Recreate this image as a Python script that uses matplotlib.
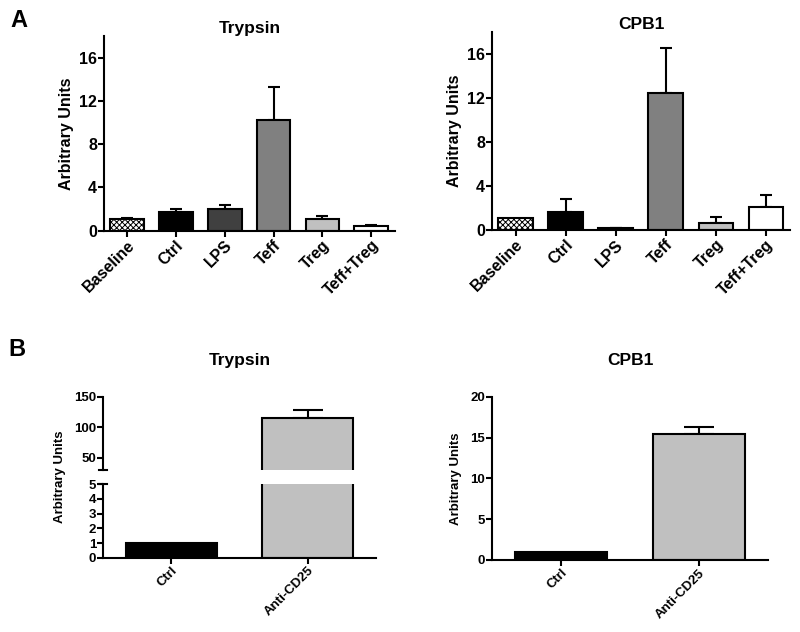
import matplotlib.pyplot as plt
import numpy as np

plt.rcParams['font.family'] = ['Liberation Sans', 'DejaVu Sans']
plt.rcParams['font.weight'] = 'bold'
plt.rcParams['axes.labelweight'] = 'bold'
plt.rcParams['hatch.linewidth'] = 0.7

# data
groups_a = ['Baseline', 'Ctrl', 'LPS', 'Teff', 'Treg', 'Teff+Treg']
trypsin_a = [1.08, 1.73, 2.0, 10.2, 1.1, 0.4]
trypsin_a_err = [0.12, 0.24, 0.4, 3.1, 0.23, 0.12]
cpb1_a = [1.05, 1.64, 0.15, 12.45, 0.66, 2.12]
cpb1_a_err = [0.0, 1.16, 0.07, 4.1, 0.52, 1.03]
colors_a = ['white', 'black', '#404040', '#808080', '#c0c0c0', 'white']
hatches_a = ['xxxxxx', None, None, None, None, None]

groups_b = ['Ctrl', 'Anti-CD25']
trypsin_b = [1.0, 114.6]
trypsin_b_err = [0.0, 13.1]
cpb1_b = [1.0, 15.4]
cpb1_b_err = [0.0, 0.9]
colors_b = ['black', '#c0c0c0']

LW = 1.5


def style(ax, fs):
    ax.spines['top'].set_visible(False)
    ax.spines['right'].set_visible(False)
    ax.spines['left'].set_linewidth(LW)
    ax.spines['bottom'].set_linewidth(LW)
    ax.tick_params(width=LW, length=4, labelsize=fs, pad=1)


def bars(ax, vals, errs, colors, hatches=None, width=0.69, cap=4.5):
    x = np.arange(len(vals))
    for i, v in enumerate(vals):
        h = hatches[i] if hatches else None
        ax.bar(x[i], v, width, color=colors[i], edgecolor='black',
               linewidth=LW, hatch=h, zorder=2)
        if errs[i] > 0:
            ax.errorbar(x[i], v, yerr=[[0], [errs[i]]], fmt='none',
                        ecolor='black', elinewidth=LW, capsize=cap,
                        capthick=LW, zorder=1)
    return x


def xlabels(ax, x, labels, fs):
    ax.set_xticks(x)
    ax.set_xticklabels(labels, rotation=45, ha='right',
                       rotation_mode='anchor', fontsize=fs)


fig = plt.figure(figsize=(8, 6.32), dpi=100)

# ---- panel A ----
ax1 = fig.add_axes([0.130, 0.635, 0.364, 0.308])
x = bars(ax1, trypsin_a, trypsin_a_err, colors_a, hatches_a)
ax1.set_xlim(-0.47, 5.49)
ax1.set_ylim(0, 18)
ax1.set_yticks([0, 4, 8, 12, 16])
style(ax1, 11.5)
xlabels(ax1, x, groups_a, 11.5)
ax1.set_ylabel('Arbitrary Units', fontsize=11.5, labelpad=4)
ax1.set_title('Trypsin', fontsize=12.5, fontweight='bold', pad=2)

ax2 = fig.add_axes([0.615, 0.636, 0.373, 0.314])
x = bars(ax2, cpb1_a, cpb1_a_err, colors_a, hatches_a)
ax2.set_xlim(-0.47, 5.49)
ax2.set_ylim(0, 18)
ax2.set_yticks([0, 4, 8, 12, 16])
style(ax2, 11.5)
xlabels(ax2, x, groups_a, 11.5)
ax2.set_ylabel('Arbitrary Units', fontsize=11.5, labelpad=4)
ax2.set_title('CPB1', fontsize=12.5, fontweight='bold', pad=-4)

# ---- panel B, trypsin with broken axis ----
ax3 = fig.add_axes([0.129, 0.1176, 0.341, 0.1161])
ax3u = fig.add_axes([0.129, 0.2563, 0.341, 0.116])
for a in (ax3, ax3u):
    x = bars(a, trypsin_b, trypsin_b_err, colors_b, width=0.67, cap=11)
    a.set_xlim(-0.5, 1.5)
ax3.set_ylim(0, 5)
ax3.set_yticks([0, 1, 2, 3, 4, 5])
style(ax3, 9.5)
xlabels(ax3, x, groups_b, 9.5)
ax3u.set_ylim(30, 150)
ax3u.set_yticks([50, 100, 150])
style(ax3u, 9.5)
ax3u.spines['bottom'].set_visible(False)
ax3u.set_xticks([])
# break caps on the y axis
ax3.plot([-0.015, 0.015], [1, 1], color='black', lw=LW,
         transform=ax3.transAxes, clip_on=False)
ax3u.plot([-0.015, 0.015], [0, 0], color='black', lw=LW,
          transform=ax3u.transAxes, clip_on=False)
fig.text(0.075, 0.245, 'Arbitrary Units', rotation=90, fontsize=9.5,
         ha='center', va='center')
ax3u.set_title('Trypsin', fontsize=12.5, fontweight='bold', pad=23)

# ---- panel B, CPB1 ----
ax4 = fig.add_axes([0.615, 0.114, 0.345, 0.258])
x = bars(ax4, cpb1_b, cpb1_b_err, colors_b, width=0.67, cap=11)
ax4.set_xlim(-0.5, 1.5)
ax4.set_ylim(0, 20)
ax4.set_yticks([0, 5, 10, 15, 20])
style(ax4, 9.5)
xlabels(ax4, x, groups_b, 9.5)
ax4.set_ylabel('Arbitrary Units', fontsize=9.5, labelpad=6)
ax4.set_title('CPB1', fontsize=12.5, fontweight='bold', pad=23)

fig.text(0.013, 0.985, 'A', fontsize=17, fontweight='bold', va='top')
fig.text(0.010, 0.465, 'B', fontsize=17, fontweight='bold', va='top')

fig.savefig('out.png', dpi=100)
